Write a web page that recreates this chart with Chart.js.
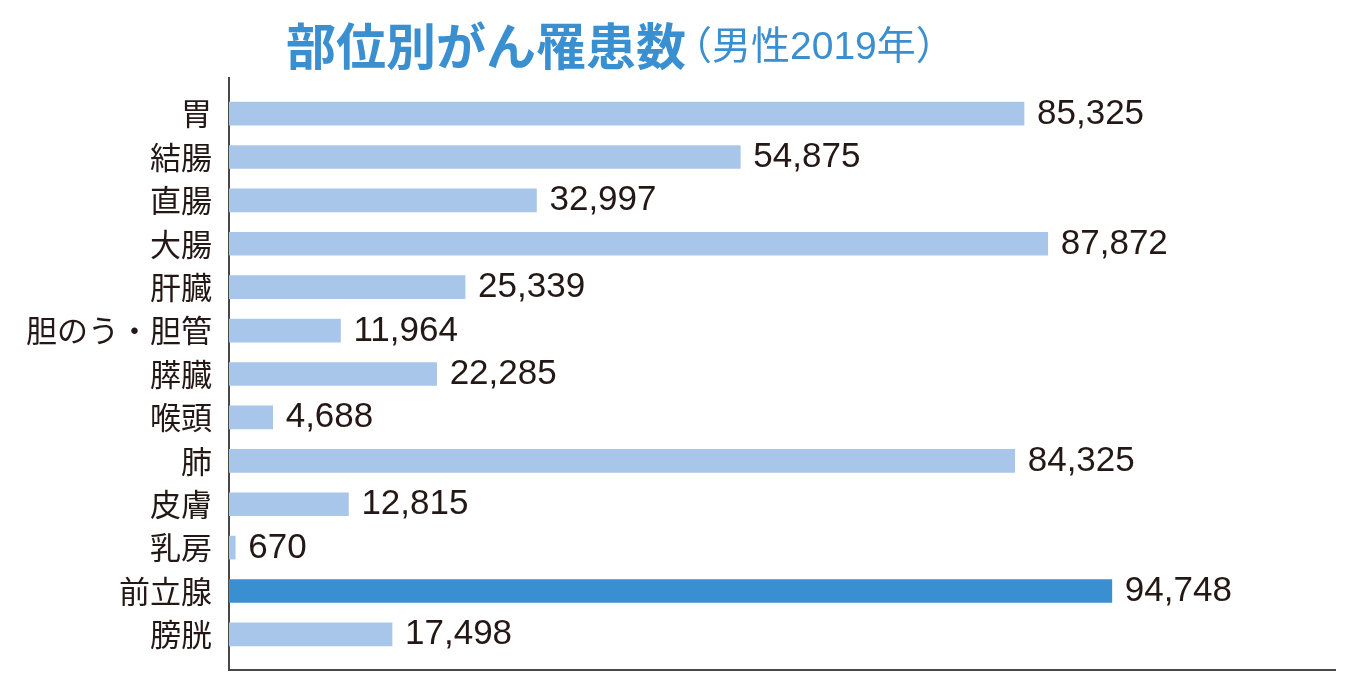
<!DOCTYPE html>
<html><head><meta charset="utf-8">
<script src="https://cdn.jsdelivr.net/npm/chart.js@4"></script>
<style>html,body{margin:0;padding:0;background:#fff}#wrap{width:1363px;height:692px;position:relative}</style>
</head><body><div id="wrap"><canvas id="c" width="1363" height="692"></canvas></div>
<script>
const categories = ["胃","結腸","直腸","大腸","肝臓","胆のう・胆管","膵臓","喉頭","肺","皮膚","乳房","前立腺","膀胱"];
const cases = [85325,54875,32997,87872,25339,11964,22285,4688,84325,12815,670,94748,17498];
const highlighted = ["前立腺"];
const titleMain = "部位別がん罹患数";
const titleSub = "（男性2019年）";

const LIGHT = "#a8c6ea", DARK = "#3a8fd0", INK = "#231815", AXIS = "#4a4646";

const titlePlugin = {
  id: "titleDraw",
  afterDraw(chart) {
    const ctx = chart.ctx;
    ctx.save();
    ctx.fillStyle = DARK;
    ctx.textBaseline = "middle";
    ctx.textAlign = "left";
    ctx.font = "bold 50px 'Noto Sans CJK JP'";
    ctx.fillText(titleMain, 286, 46);
    const w = ctx.measureText(titleMain).width;
    ctx.font = "39px 'Liberation Sans', 'Noto Sans CJK JP'";
    ctx.fillText(titleSub, 286 + w - 13, 48);
    ctx.restore();
  }
};

const valuePlugin = {
  id: "valueLabels",
  afterDatasetsDraw(chart) {
    const ctx = chart.ctx;
    const meta = chart.getDatasetMeta(0);
    ctx.save();
    ctx.fillStyle = INK;
    ctx.font = "35px 'Liberation Sans', Arial, sans-serif";
    ctx.textAlign = "left";
    ctx.textBaseline = "alphabetic";
    meta.data.forEach((bar, i) => {
      ctx.fillText(cases[i].toLocaleString("en-US"), bar.x + 13, bar.y + 10);
    });
    ctx.restore();
  }
};

new Chart(document.getElementById("c"), {
  type: "bar",
  data: {
    datasets: [{
      data: cases.map((v, i) => ({ x: v, y: i })),
      backgroundColor: categories.map(c => highlighted.includes(c) ? DARK : LIGHT),
      borderWidth: 0,
      barThickness: 23
    }]
  },
  options: {
    indexAxis: "y",
    responsive: false,
    animation: false,
    layout: { padding: { top: 78, right: 28, bottom: 0, left: 0 } },
    plugins: { legend: { display: false }, tooltip: { enabled: false }, title: { display: false } },
    scales: {
      x: {
        type: "linear",
        min: 0, max: 118700,
        grid: { display: false, drawTicks: false },
        ticks: { display: false },
        border: { display: true, color: AXIS, width: 2 },
        afterFit(s) { s.height = 22; s.paddingLeft = 0; s.paddingRight = 0; }
      },
      y: {
        type: "linear",
        reverse: true,
        offset: false,
        min: -0.82, max: 12.82,
        grid: { display: false, drawTicks: false },
        border: { display: true, color: AXIS, width: 2 },
        afterBuildTicks(s) { s.ticks = categories.map((_, i) => ({ value: i })); },
        ticks: {
          autoSkip: false,
          padding: 17,
          color: INK,
          font: { family: "'Noto Sans CJK JP'", size: 31 },
          callback: (v) => categories[v] ?? ""
        },
        afterFit(s) { s.width = 229; s.paddingTop = 0; s.paddingBottom = 0; }
      }
    }
  },
  plugins: [titlePlugin, valuePlugin]
});
</script></body></html>
